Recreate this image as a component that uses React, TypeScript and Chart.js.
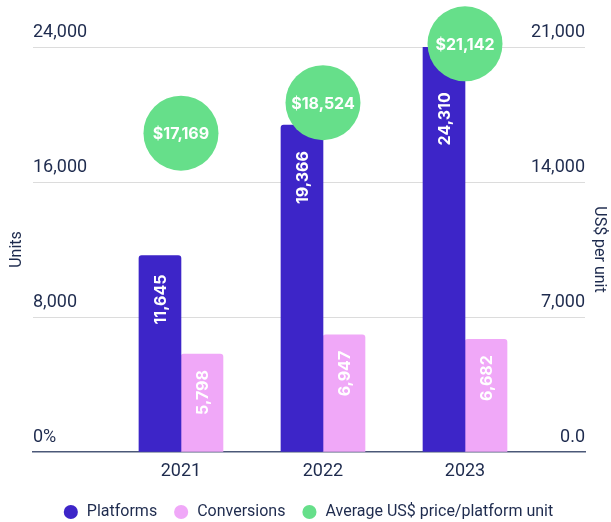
import React, { useEffect, useRef } from "react";
import { Chart, registerables } from "chart.js";

Chart.register(...registerables);

const years = [2021, 2022, 2023];
const platforms = [11645, 19366, 24310];
const conversions = [5798, 6947, 6682];
const avgPrice = [17169, 18524, 21142];
const leftTicks = [0, 8000, 16000, 24000];
const rightTicks = [0, 7000, 14000, 21000];

const NAVY = "#1E2B4E";
const PURPLE = "#3D25C8";
const PINK = "#F0A8F8";
const GREEN = "#66DF8A";
const LABEL_FONT = "Inter";

const fmt = (v: number) => v.toLocaleString("en-US");

const labelPlugin = {
  id: "valueLabels",
  afterDatasetsDraw(chart: any) {
    const ctx = chart.ctx;
    const bubbleMeta = chart.getDatasetMeta(2);
    ctx.save();
    ctx.fillStyle = "#FFFFFF";
    [0, 1].forEach((di) => {
      const meta = chart.getDatasetMeta(di);
      const ds = chart.data.datasets[di];
      meta.data.forEach((bar: any, i: number) => {
        const v = ds.data[i].y;
        let top = bar.y + (di === 0 ? 19 : 16);
        const b = bubbleMeta.data[i];
        if (b && Math.abs(b.x - bar.x) < b.options.radius + bar.width / 2) {
          const bubbleBottom = b.y + b.options.radius;
          if (bubbleBottom + 11 > top) top = bubbleBottom + 11;
        }
        ctx.save();
        ctx.translate(bar.x, top);
        ctx.rotate(-Math.PI / 2);
        ctx.font = `700 16px ${LABEL_FONT}`;
        ctx.textAlign = "right";
        ctx.textBaseline = "middle";
        ctx.fillText(fmt(v), 0, 1);
        ctx.restore();
      });
    });
    bubbleMeta.data.forEach((pt: any, i: number) => {
      const v = chart.data.datasets[2].data[i].y;
      ctx.font = `700 16px ${LABEL_FONT}`;
      ctx.textAlign = "center";
      ctx.textBaseline = "middle";
      ctx.fillText("$" + fmt(v), pt.x, pt.y + 1);
    });
    ctx.restore();
  },
};

export default function App() {
  const ref = useRef<HTMLCanvasElement | null>(null);

  useEffect(() => {
    if (!ref.current) return;
    const chart = new Chart(ref.current, {
      type: "bar",
      data: {
        datasets: [
          {
            type: "bar",
            label: "Platforms",
            data: years.map((y, i) => ({ x: y, y: platforms[i] })),
            backgroundColor: PURPLE,
            borderRadius: { topLeft: 3, topRight: 3 },
            borderSkipped: "bottom",
            barThickness: 42,
            yAxisID: "y",
            order: 2,
          } as any,
          {
            type: "bar",
            label: "Conversions",
            data: years.map((y, i) => ({ x: y, y: conversions[i] })),
            backgroundColor: PINK,
            borderRadius: { topLeft: 3, topRight: 3 },
            borderSkipped: "bottom",
            barThickness: 42,
            yAxisID: "y",
            order: 3,
          } as any,
          {
            type: "scatter",
            label: "Average US$ price/platform unit",
            data: years.map((y, i) => ({ x: y, y: avgPrice[i] })),
            backgroundColor: GREEN,
            borderColor: GREEN,
            borderWidth: 0,
            pointRadius: 37.5,
            pointHoverRadius: 37.5,
            pointStyle: "circle",
            yAxisID: "y3",
            clip: false,
            order: 1,
          } as any,
        ],
      },
      options: {
        animation: false,
        responsive: false,
        events: [],
        layout: { autoPadding: false, padding: { left: 7, right: 2, top: 47, bottom: 0 } },
        plugins: {
          tooltip: { enabled: false },
          legend: {
            position: "bottom",
            maxHeight: 34,
            labels: {
              usePointStyle: true,
              pointStyle: "circle",
              boxWidth: 18,
              boxHeight: 10,
              padding: 16,
              color: NAVY,
              font: { family: "Roboto", size: 16 },
              sort: (a: any, b: any) => a.datasetIndex - b.datasetIndex,
            },
          },
        },
        scales: {
          x: {
            type: "linear",
            offset: false,
            min: 2019.958,
            max: 2023.845,
            grid: { display: false, drawTicks: false },
            border: { display: true, color: "#4B5878", width: 1.5 },
            afterBuildTicks: (scale: any) => {
              scale.ticks = years.map((v) => ({ value: v }));
            },
            afterFit: (scale: any) => {
              scale.height = 36;
              scale.paddingLeft = 0;
              scale.paddingRight = 0;
            },
            ticks: {
              color: NAVY,
              padding: 9,
              font: { family: "Roboto", size: 18 },
              callback: (v: any) => String(v),
              maxRotation: 0,
              autoSkip: false,
            },
          },
          y: {
            type: "linear",
            position: "left",
            min: 0,
            max: 24000,
            afterBuildTicks: (scale: any) => {
              scale.ticks = leftTicks.map((v) => ({ value: v }));
            },
            afterFit: (scale: any) => {
              scale.width = 26;
            },
            grid: {
              drawTicks: false,
              color: (c: any) => (c.tick && c.tick.value === 0 ? "rgba(0,0,0,0)" : "#DCDCDC"),
            },
            border: { display: false },
            title: {
              display: true,
              text: "Units",
              color: NAVY,
              padding: 0,
              font: { family: "Roboto", size: 16 },
            },
            ticks: {
              mirror: true,
              padding: 0,
              labelOffset: -15,
              color: NAVY,
              font: { family: "Roboto", size: 18 },
              callback: (v: any) => (v === 0 ? "0%" : fmt(v)),
            },
          },
          y2: {
            type: "linear",
            position: "right",
            min: 0,
            max: 21000,
            afterBuildTicks: (scale: any) => {
              scale.ticks = rightTicks.map((v) => ({ value: v }));
            },
            afterFit: (scale: any) => {
              scale.width = 24;
            },
            grid: { display: false, drawTicks: false },
            border: { display: false },
            title: {
              display: true,
              text: "US$ per unit",
              color: NAVY,
              padding: 0,
              font: { family: "Roboto", size: 16 },
            },
            ticks: {
              mirror: true,
              padding: 0,
              labelOffset: -15,
              color: NAVY,
              font: { family: "Roboto", size: 18 },
              callback: (v: any) => (v === 0 ? "0.0" : fmt(v)),
            },
          },
          y3: {
            type: "linear",
            display: false,
            min: 3000,
            max: 21000,
          },
        },
      } as any,
      plugins: [labelPlugin],
    });
    return () => chart.destroy();
  }, []);

  return (
    <div style={{ position: "fixed", left: 0, top: 0, width: 611, height: 522, background: "#FFFFFF" }}>
      <canvas ref={ref} width={611} height={522} style={{ display: "block", width: 611, height: 522 }} />
    </div>
  );
}
